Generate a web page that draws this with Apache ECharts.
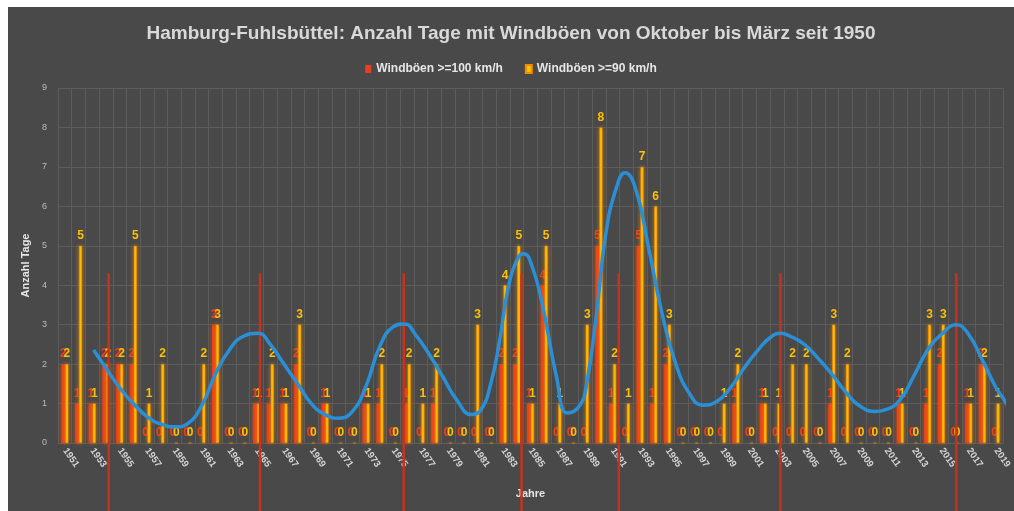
<!DOCTYPE html>
<html>
<head>
<meta charset="utf-8">
<script src="https://cdn.jsdelivr.net/npm/echarts@6/dist/echarts.min.js"></script>
<style>
body{margin:0;background:#fff;}
#chart{position:absolute;left:8px;top:7px;width:1006px;height:504px;background:#494949;}
</style>
</head>
<body>
<div id="chart"></div>
<script>
var jahre = ['1951','1952','1953','1954','1955','1956','1957','1958','1959','1960',
	'1961','1962','1963','1964','1965','1966','1967','1968','1969','1970',
	'1971','1972','1973','1974','1975','1976','1977','1978','1979','1980',
	'1981','1982','1983','1984','1985','1986','1987','1988','1989','1990',
	'1991','1992','1993','1994','1995','1996','1997','1998','1999','2000',
	'2001','2002','2003','2004','2005','2006','2007','2008','2009','2010',
	'2011','2012','2013','2014','2015','2016','2017','2018','2019'];

// Tage mit Boeen >=100 km/h
var boeen100 = [2,1,1,2,2,2,0,0,0,0,
	0,3,0,0,1,1,1,2,0,1,
	0,0,1,1,0,1,0,1,0,0,
	0,0,2,2,1,4,0,0,0,5,
	1,0,5,1,2,0,0,0,0,1,
	0,1,0,0,0,0,1,0,0,0,
	0,1,0,1,2,0,1,2,0];

// Tage mit Boeen >=90 km/h
var boeen90 = [2,5,1,2,2,5,1,2,0,0,
	2,3,0,0,1,2,1,3,0,1,
	0,0,1,2,0,2,1,2,0,0,
	3,0,4,5,1,5,1,0,3,8,
	2,1,7,6,3,0,0,0,1,2,
	0,1,1,2,2,0,3,2,0,0,
	0,1,0,3,3,0,1,2,1];

var trend = [[1953.1,2.36],[1954,1.9],[1955,1.4],[1956,1.0],[1957,0.67],[1958,0.48],[1959.1,0.41],[1960,0.5],
	[1961,0.95],[1962,1.75],[1963,2.35],[1964,2.7],[1965.1,2.78],[1966,2.5],[1967,2.0],[1968,1.5],[1969,1.0],
	[1970,0.72],[1971,0.63],[1972,0.8],[1973,1.45],[1974,2.45],[1975,2.95],[1975.8,3.02],[1976.6,2.75],
	[1977.6,2.25],[1978.6,1.68],[1979.6,1.1],[1980.7,0.72],[1981.4,0.85],[1982.1,1.5],[1982.7,2.5],[1983.4,3.97],
	[1984.1,4.7],[1984.5,4.8],[1985.1,4.5],[1985.9,3.46],[1986.9,1.68],[1987.7,0.76],[1988.6,0.95],[1989.1,1.5],
	[1989.8,3.21],[1990.5,5.3],[1991.3,6.5],[1991.9,6.85],[1992.7,6.42],[1993.6,5.0],[1994.6,3.3],[1995.6,2.02],
	[1996.6,1.26],[1997.6,0.96],[1998.6,1.05],[1999.6,1.4],[2000.6,1.9],[2001.6,2.35],[2002.6,2.7],[2003.3,2.78],
	[2004,2.7],[2005,2.5],[2006,2.15],[2007,1.75],[2008,1.3],[2009,0.95],[2010.2,0.8],[2011,0.85],[2012,1.1],
	[2013,1.7],[2014,2.35],[2015,2.75],[2016.1,3.0],[2017,2.75],[2018,2.1],[2019,1.4],[2019.6,1.09],[2020.3,0.63]];

// rote senkrechte Linien (Jahr, Hoehe)
var markerJahre = [1954.2,1965.25,1975.75,1984.35,1991.45,2003.25,2016.1];
var markerHoehe = 4.3;

var yTicks = [0,9,1];

var fontFam = '"Liberation Sans", Arial, sans-serif';

function markerData(){
	var d = [];
	for (var i = 0; i < markerJahre.length; i++) {
		d.push([markerJahre[i], markerHoehe]);
	}
	return d;
}

function chartOption(){
	return {
		animation:false,
		textStyle:{fontFamily:fontFam},
		title:{
			text:'Hamburg-Fuhlsbüttel: Anzahl Tage mit Windböen von Oktober bis März seit 1950',
			left:'center', top:12,
			textStyle:{color:'#d9d9d9', fontSize:19, fontWeight:'bold', fontFamily:fontFam}
		},
		legend:{
			top:51, left:'center', itemWidth:6, itemHeight:8, itemGap:22, icon:'rect',
			textStyle:{color:'#e6e6e6', fontSize:12, fontWeight:'bold'},
			data:['Windböen >=100 km/h','Windböen >=90 km/h']
		},
		grid:{left:50, right:11, top:81, bottom:68},
		xAxis:[{
			type:'category', data:jahre, boundaryGap:true,
			name:'Jahre', nameLocation:'middle', nameGap:45,
			nameTextStyle:{color:'#e6e6e6', fontSize:11, fontWeight:'bold'},
			axisLine:{lineStyle:{color:'#5e5e5e'}},
			axisTick:{show:false},
			axisLabel:{interval:1, rotate:-55, margin:6, color:'#d6d6d6', fontSize:9.5, fontWeight:'bold'},
			splitLine:{show:true, interval:0, lineStyle:{color:'#5c5c5c', width:1}}
		},{
			type:'value', min:1950.5, max:2019.5, show:false
		}],
		yAxis:{
			type:'value', min:yTicks[0], max:yTicks[1], interval:yTicks[2],
			name:'Anzahl Tage', nameLocation:'middle', nameGap:22,
			nameTextStyle:{color:'#e6e6e6', fontSize:11, fontWeight:'bold'},
			axisLine:{show:false}, axisTick:{show:false},
			axisLabel:{color:'#bcbcbc', fontSize:9, margin:11},
			splitLine:{lineStyle:{color:'#5c5c5c', width:1}}
		},
		series:[{
			name:'Windböen >=100 km/h', type:'bar', data:boeen100,
			barWidth:4, barGap:'0%',
			itemStyle:{color:'#e8401c', shadowBlur:4, shadowColor:'rgba(255,90,0,0.7)'},
			label:{show:true, position:'top', distance:4, color:'#ff3a10', fontSize:12, fontWeight:'bold'},
			z:2
		},{
			name:'Windböen >=90 km/h', type:'bar', data:boeen90,
			barWidth:3,
			itemStyle:{color:'#ffc000', borderColor:'#f08a00', borderWidth:0.5, shadowBlur:4, shadowColor:'rgba(255,150,0,0.7)'},
			label:{show:true, position:'top', distance:4, color:'#ffc000', fontSize:12, fontWeight:'bold'},
			z:3
		},{
			name:'marker', type:'custom', xAxisIndex:1, yAxisIndex:0, clip:false, z:4,
			data:markerData(),
			renderItem:function(params, api){
				var p = api.coord([api.value(0), api.value(1)]);
				return {
					type:'line',
					shape:{x1:p[0], y1:p[1], x2:p[0], y2:api.getHeight()},
					style:{stroke:'#c8321c', lineWidth:2.5}
				};
			}
		},{
			name:'trend', type:'line', xAxisIndex:1, yAxisIndex:0, data:trend,
			smooth:true, showSymbol:false, clip:false, z:5,
			lineStyle:{color:'#2b8fd6', width:3.5}
		}]
	};
}

var myChart = echarts.init(document.getElementById('chart'));
myChart.setOption(chartOption());
</script>
</body>
</html>
